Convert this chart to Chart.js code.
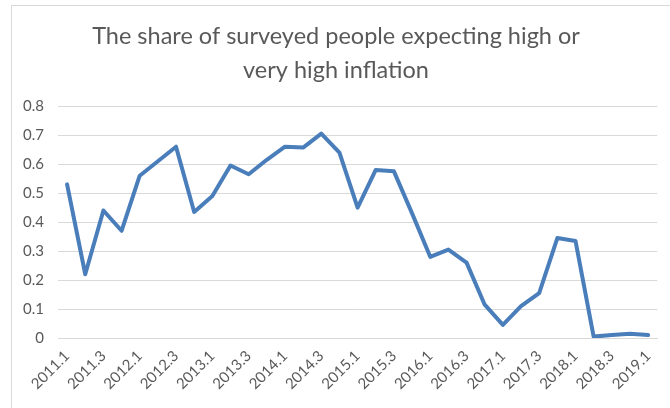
<!DOCTYPE html>
<html>
<head>
<meta charset="utf-8">
<script src="https://cdn.jsdelivr.net/npm/chart.js@4/dist/chart.umd.min.js"></script>
<style>
  html, body { margin: 0; padding: 0; background: #ffffff; }
  #wrap { position: relative; width: 670px; height: 408px; overflow: hidden; }
  #frame { position: absolute; left: 11px; top: 5px; width: 700px; height: 450px;
           border-left: 1px solid #d9d9d9; border-top: 1px solid #d9d9d9; box-sizing: border-box; }
  canvas { position: absolute; left: 0; top: 0; }
</style>
</head>
<body>
<div id="wrap">
  <div id="frame"></div>
  <canvas id="c" width="670" height="408"></canvas>
</div>
<script>
// Survey periods: year.quarter, 2011.1 through 2019.1
const periods = [
  "2011.1","2011.2","2011.3","2011.4",
  "2012.1","2012.2","2012.3","2012.4",
  "2013.1","2013.2","2013.3","2013.4",
  "2014.1","2014.2","2014.3","2014.4",
  "2015.1","2015.2","2015.3","2015.4",
  "2016.1","2016.2","2016.3","2016.4",
  "2017.1","2017.2","2017.3","2017.4",
  "2018.1","2018.2","2018.3","2018.4",
  "2019.1"
];

// Share of respondents expecting high or very high inflation
const shareHighInflation = [
  0.53, 0.22, 0.44, 0.37,
  0.56, 0.61, 0.66, 0.435,
  0.49, 0.595, 0.565, 0.615,
  0.66, 0.657, 0.705, 0.64,
  0.45, 0.58, 0.575, 0.43,
  0.28, 0.305, 0.26, 0.115,
  0.045, 0.11, 0.155, 0.345,
  0.335, 0.005, 0.01, 0.015,
  0.01
];

// Value axis ticks
const yTicks = [0, 0.1, 0.2, 0.3, 0.4, 0.5, 0.6, 0.7, 0.8];

const titleLines = ["The share of surveyed people expecting high or", "very high inflation"];

const textColor = "#595959";
const gridColor = "#d9d9d9";
const fontFamily = "Lato, 'Open Sans', sans-serif";

new Chart(document.getElementById("c"), {
  type: "line",
  data: {
    labels: periods,
    datasets: [{
      data: shareHighInflation,
      borderColor: "#4a7ebb",
      borderWidth: 4,
      pointRadius: 0,
      tension: 0,
      fill: false,
      borderJoinStyle: "round",
      borderCapStyle: "round"
    }]
  },
  options: {
    responsive: false,
    animation: false,
    layout: { padding: { left: 12, right: 10, top: 0, bottom: 0 } },
    plugins: {
      legend: { display: false },
      tooltip: { enabled: false },
      title: {
        display: true,
        text: titleLines,
        color: textColor,
        font: { family: fontFamily, size: 23.5, weight: "normal", lineHeight: 1.45 },
        padding: { top: 19, bottom: 19 }
      }
    },
    scales: {
      x: {
        type: "category",
        offset: true,
        grid: { display: false, drawTicks: false },
        border: { display: true, color: gridColor, width: 1 },
        afterFit: (scale) => { scale.height = 70; },
        ticks: {
          autoSkip: false,
          maxRotation: 45,
          minRotation: 45,
          padding: 9,
          color: textColor,
          font: { family: fontFamily, size: 15 },
          callback: function (value, index) {
            return index % 2 === 0 ? this.getLabelForValue(value) : "";
          }
        }
      },
      y: {
        min: 0,
        max: 0.8,
        afterBuildTicks: (scale) => { scale.ticks = yTicks.map(v => ({ value: v })); },
        afterFit: (scale) => { scale.width = 46; },
        grid: { color: gridColor, lineWidth: 1, drawTicks: false },
        border: { display: false },
        ticks: {
          padding: 14,
          color: textColor,
          font: { family: fontFamily, size: 15 },
          callback: (v) => (v === 0 ? "0" : String(Math.round(v * 10) / 10))
        }
      }
    }
  }
});
</script>
</body>
</html>
